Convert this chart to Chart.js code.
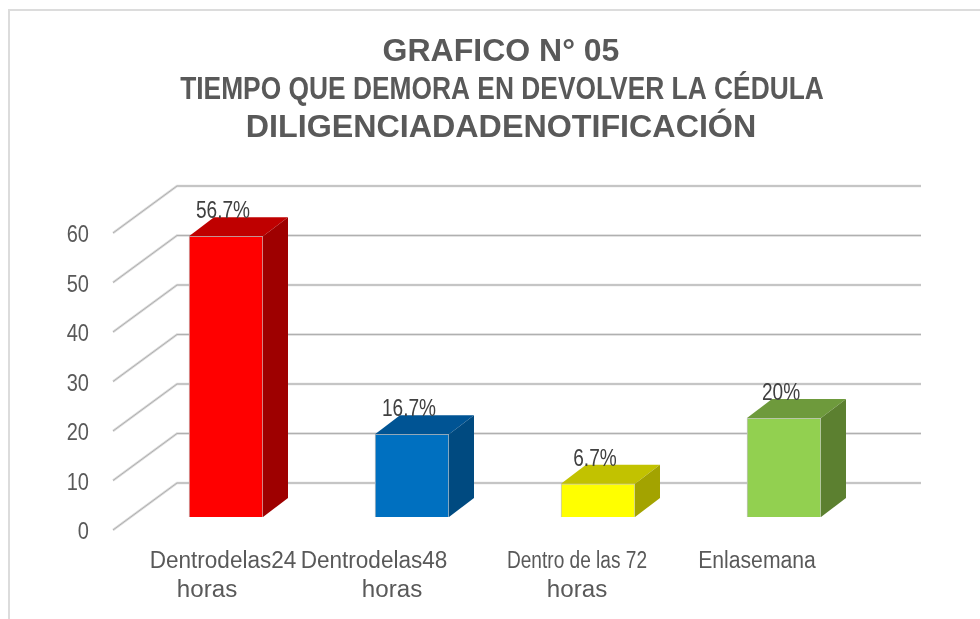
<!DOCTYPE html>
<html>
<head>
<meta charset="utf-8">
<script src="https://cdn.jsdelivr.net/npm/chart.js@4"></script>
<style>
  html, body { margin: 0; padding: 0; background: #fff; overflow: hidden; }
  canvas { display: block; }
</style>
</head>
<body>
<canvas id="chart" width="980" height="619"></canvas>
<script>
const categorias = [["Dentrodelas24", "horas"], ["Dentrodelas48", "horas"], ["Dentro de las 72", "horas"], ["Enlasemana"]];
const valores = [56.7, 16.7, 6.7, 20];
const etiquetasValor = ["56.7%", "16.7%", "6.7%", "20%"];
const ticksY = [0, 10, 20, 30, 40, 50, 60];
const titulo = ["GRAFICO N° 05", "TIEMPO QUE DEMORA EN DEVOLVER LA CÉDULA", "DILIGENCIADADENOTIFICACIÓN"];

const colorFrente = ["#ff0000", "#0070c0", "#ffff00", "#92d050"];
const colorArriba = ["#bf0000", "#005494", "#c2c200", "#6e9a3c"];
const colorLado = ["#9e0000", "#004a80", "#a3a300", "#5c8030"];

// profundidad del efecto 3D
const fondoX = 44, fondoY = -34;
const frenteX = -20, frenteY = 13;
const barraX = 25, barraY = -19;

// el original tiene el texto angosto, por eso la escala en x
function texto(ctx, str, x, y, font, color, escalaX, align) {
  ctx.save();
  ctx.translate(x, y);
  ctx.scale(escalaX, 1);
  ctx.font = font;
  ctx.fillStyle = color;
  ctx.textAlign = align || "center";
  ctx.textBaseline = "middle";
  ctx.fillText(str, 0, 0);
  ctx.restore();
}

function poligono(ctx, puntos, color) {
  ctx.beginPath();
  puntos.forEach((p, i) => i == 0 ? ctx.moveTo(p[0], p[1]) : ctx.lineTo(p[0], p[1]));
  ctx.closePath();
  ctx.fillStyle = color;
  ctx.fill();
}

const fondo3D = {
  id: "fondo3D",
  beforeDatasetsDraw(chart) {
    const { ctx, scales, chartArea } = chart;
    ctx.save();
    // marco
    ctx.strokeStyle = "#dcdcdc";
    ctx.lineWidth = 2;
    ctx.beginPath();
    ctx.moveTo(9, 619);
    ctx.lineTo(9, 10);
    ctx.lineTo(980, 10);
    ctx.stroke();

    // titulo
    texto(ctx, titulo[0], 501, 52, "bold 32px 'Liberation Sans'", "#595959", 1);
    texto(ctx, titulo[1], 502, 90, "bold 31px 'Liberation Sans'", "#595959", 0.85);
    texto(ctx, titulo[2], 501, 128, "bold 31px 'Liberation Sans'", "#595959", 1.04);

    // rejilla
    ticksY.forEach((t) => {
      const y = scales.y.getPixelForValue(t);
      [[2.5, "#dadada"], [1, "#b0b0b0"]].forEach(([ancho, color]) => {
        ctx.strokeStyle = color;
        ctx.lineWidth = ancho;
        ctx.beginPath();
        ctx.moveTo(chartArea.left + frenteX, y + frenteY);
        ctx.lineTo(chartArea.left + fondoX, y + fondoY);
        ctx.lineTo(chartArea.right + fondoX, y + fondoY);
        ctx.stroke();
      });
      texto(ctx, String(t), 89, y + frenteY + 3, "23px 'Liberation Sans'", "#595959", 0.87, "right");
    });
    ctx.restore();
  },
  afterDatasetsDraw(chart) {
    const { ctx, scales } = chart;
    ctx.save();
    chart.getDatasetMeta(0).data.forEach((barra, i) => {
      const der = barra.x + barra.width / 2;
      const izq = barra.x - barra.width / 2;
      poligono(ctx, [[izq, barra.y], [der, barra.y], [der + barraX, barra.y + barraY], [izq + barraX, barra.y + barraY]], colorArriba[i]);
      poligono(ctx, [[der, barra.y], [der + barraX, barra.y + barraY], [der + barraX, barra.base + barraY], [der, barra.base]], colorLado[i]);
      texto(ctx, etiquetasValor[i], barra.x - 3, barra.y - 24.5, "23px 'Liberation Sans'", "#404040", 0.83);
    });

    // etiquetas del eje x, corridas como en el original
    const corrido = [[-3, -19], [-38, -20], [-21, -21], [-27]];
    const angosto = [[0.98, 1.05], [0.98, 1.05], [0.83, 1.05], [0.92]];
    categorias.forEach((lineas, i) => {
      const x = scales.x.getPixelForValue(i);
      lineas.forEach((l, j) => {
        texto(ctx, l, x + corrido[i][j], 562 + j * 29, "23px 'Liberation Sans'", "#595959", angosto[i][j]);
      });
    });
    ctx.restore();
  }
};

new Chart(document.getElementById("chart"), {
  type: "bar",
  data: {
    labels: categorias.map((c) => c.join(" ")),
    datasets: [{
      data: valores,
      backgroundColor: colorFrente,
      borderColor: "#c4c4c4",
      borderWidth: 1,
      barThickness: 74
    }]
  },
  options: {
    responsive: false,
    animation: false,
    layout: { padding: { left: 133, right: 103, top: 220, bottom: 102 } },
    plugins: { legend: { display: false }, tooltip: { enabled: false } },
    scales: {
      x: { display: false },
      y: { display: false, min: 0, max: 60 }
    }
  },
  plugins: [fondo3D]
});
</script>
</body>
</html>
